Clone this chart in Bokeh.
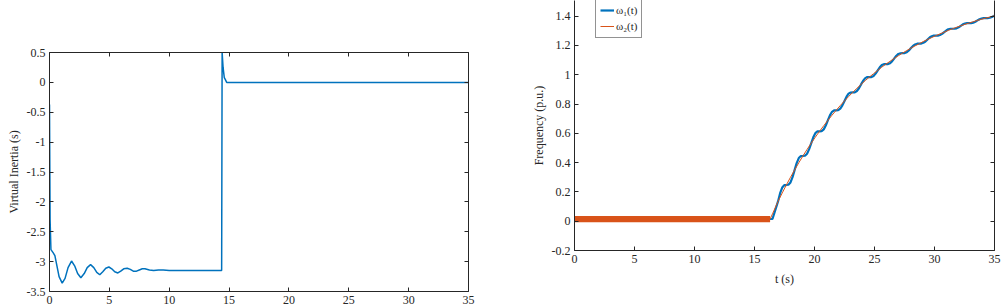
from bokeh.plotting import figure
from bokeh.models import (Range1d, LinearAxis, FixedTicker, NumeralTickFormatter,
                          Legend, LegendItem)
from bokeh.embed import file_html
from bokeh.resources import INLINE

# ---------------- data ----------------
x_ticks = [0, 5, 10, 15, 20, 25, 30, 35]
inertia_ticks = [-3.5, -3, -2.5, -2, -1.5, -1, -0.5, 0, 0.5]
freq_ticks = [-0.2, 0, 0.2, 0.4, 0.6, 0.8, 1, 1.2, 1.4]

inertia_t = [0, 0.05, 0.12, 0.3, 0.45, 0.6, 0.8, 1.06, 1.3, 1.55,
             1.84, 2.1, 2.35, 2.62, 2.9, 3.15, 3.43, 3.7, 3.95, 4.2,
             4.45, 4.7, 4.96, 5.2, 5.45, 5.71, 5.95, 6.2, 6.49, 6.75,
             7.0, 7.27, 7.5, 7.75, 7.97, 8.35, 8.7, 9.1, 9.5, 10.0,
             12.0, 14.38, 14.42, 14.5, 14.6, 14.68, 14.8, 35.0]
inertia = [-0.37, -2.3, -2.8, -2.85, -2.9, -3.05, -3.25, -3.36, -3.28, -3.1,
           -2.99, -3.07, -3.2, -3.27, -3.2, -3.1, -3.05, -3.1, -3.18, -3.22,
           -3.17, -3.11, -3.09, -3.12, -3.17, -3.19, -3.16, -3.12, -3.11, -3.13,
           -3.16, -3.16, -3.14, -3.12, -3.12, -3.14, -3.15, -3.14, -3.14, -3.15,
           -3.15, -3.15, 0.5, 0.25, 0.08, 0.05, 0.0, 0.0]

# omega_1(t): (t, value)
omega1_pts = [
    (0, 0.015), (16.5, 0.015), (16.96, 0.135), (17.135, 0.191), (17.31, 0.230),
    (17.48, 0.246), (17.65, 0.247), (17.825, 0.249), (18.0, 0.265), (18.17, 0.301),
    (18.34, 0.349), (18.515, 0.397), (18.69, 0.431), (18.865, 0.445), (19.04, 0.446),
    (19.21, 0.447), (19.38, 0.461), (19.555, 0.492), (19.73, 0.533), (19.9, 0.573),
    (20.07, 0.601), (20.245, 0.613), (20.42, 0.614), (20.595, 0.615), (20.77, 0.627),
    (20.94, 0.653), (21.11, 0.688), (21.285, 0.723), (21.46, 0.747), (21.63, 0.757),
    (21.8, 0.757), (21.975, 0.758), (22.15, 0.769), (22.325, 0.791), (22.5, 0.821),
    (22.67, 0.850), (22.84, 0.871), (23.015, 0.879), (23.19, 0.880), (23.36, 0.880),
    (23.53, 0.889), (23.705, 0.908), (23.88, 0.934), (24.055, 0.959), (24.23, 0.977),
    (24.4, 0.984), (24.57, 0.984), (24.745, 0.984), (24.92, 0.992), (25.095, 1.008),
    (25.27, 1.030), (25.44, 1.051), (25.61, 1.066), (25.785, 1.072), (25.96, 1.073),
    (26.13, 1.073), (26.3, 1.079), (26.475, 1.093), (26.65, 1.112), (26.82, 1.130),
    (26.99, 1.142), (27.165, 1.147), (27.34, 1.148), (27.515, 1.148), (27.69, 1.154),
    (27.865, 1.166), (28.04, 1.182), (28.21, 1.197), (28.38, 1.207), (28.555, 1.212),
    (28.73, 1.212), (28.9, 1.213), (29.07, 1.218), (29.245, 1.227), (29.42, 1.241),
    (29.595, 1.254), (29.77, 1.263), (29.94, 1.267), (30.11, 1.267), (30.285, 1.267),
    (30.46, 1.271), (30.635, 1.279), (30.81, 1.291), (30.98, 1.302), (31.15, 1.311),
    (31.325, 1.314), (31.5, 1.314), (31.67, 1.314), (31.84, 1.317), (32.015, 1.324),
    (32.19, 1.334), (32.365, 1.344), (32.54, 1.350), (32.71, 1.353), (32.88, 1.353),
    (33.055, 1.353), (33.23, 1.356), (33.405, 1.362), (33.58, 1.371), (33.75, 1.379),
    (33.92, 1.384), (34.095, 1.387), (34.27, 1.387), (34.44, 1.387), (34.61, 1.389),
    (34.785, 1.395), (34.96, 1.402), (35.0, 1.403),
]
omega1_t = [p[0] for p in omega1_pts]
omega1 = [p[1] for p in omega1_pts]

# omega_2(t): smooth reference trace
omega2_t = [0, 16.3, 16.5, 16.96, 17.31, 17.65, 18.0, 18.34, 18.69, 19.04, 19.38,
            19.73, 20.07, 20.42, 20.77, 21.11, 21.46, 21.8, 22.15, 22.5, 22.84,
            23.19, 23.53, 23.88, 24.23, 24.57, 24.92, 25.27, 25.61, 25.96, 26.3,
            26.65, 26.99, 27.34, 27.69, 28.04, 28.38, 28.73, 29.07, 29.42, 29.77,
            30.11, 30.46, 30.81, 31.15, 31.5, 31.84, 32.19, 32.54, 32.88, 33.23,
            33.58, 33.92, 34.27, 34.61, 34.96, 35.0]
omega2 = [0.015, 0.015, 0.05, 0.135, 0.193, 0.247, 0.300, 0.349, 0.399, 0.446, 0.490,
          0.533, 0.574, 0.614, 0.652, 0.688, 0.724, 0.757, 0.790, 0.821, 0.851,
          0.880, 0.907, 0.934, 0.960, 0.984, 1.007, 1.030, 1.052, 1.073, 1.092,
          1.112, 1.130, 1.148, 1.165, 1.182, 1.197, 1.212, 1.227, 1.241, 1.254,
          1.267, 1.279, 1.291, 1.303, 1.314, 1.324, 1.334, 1.344, 1.353, 1.362,
          1.371, 1.379, 1.387, 1.394, 1.402, 1.403]
# measured band of the (noisy) omega2 trace before the ramp
noise_t = [0, 16.3]
noise_lo = [-0.007, -0.007]
noise_hi = [0.035, 0.035]

# ---------------- style ----------------
FONT = "Liberation Serif"
AX = "#262626"
BLUE = "#0072BD"
ORANGE = "#D95319"


def style_axis(ax, labels=True, standoff=4):
    ax.axis_line_color = AX
    ax.axis_line_width = 1
    ax.major_tick_line_color = AX
    ax.major_tick_in = 4
    ax.major_tick_out = 0
    ax.minor_tick_line_color = None
    ax.major_label_text_font = FONT
    ax.major_label_text_color = AX if labels else None
    ax.major_label_text_font_size = "12px" if labels else "0px"
    ax.major_label_standoff = standoff if labels else 0
    ax.axis_label_text_font = FONT
    ax.axis_label_text_font_size = "12px"
    ax.axis_label_text_font_style = "normal"
    ax.axis_label_text_color = AX
    ax.axis_label_standoff = 3


# ---------------- left figure ----------------
p1 = figure(width=510, height=307, title=None,
            x_range=Range1d(0, 35), y_range=Range1d(-3.5, 0.5),
            output_backend="svg", toolbar_location=None,
            min_border_left=49, min_border_right=42,
            min_border_top=52, min_border_bottom=16)
p1.grid.visible = False
p1.outline_line_color = None
p1.background_fill_color = "white"
p1.border_fill_color = "white"

p1.xaxis.ticker = FixedTicker(ticks=x_ticks)
p1.xaxis.formatter = NumeralTickFormatter(format="0.[0]")
p1.yaxis.ticker = FixedTicker(ticks=inertia_ticks)
p1.yaxis.formatter = NumeralTickFormatter(format="0.[0]")
p1.yaxis.axis_label = "Virtual Inertia (s)"
style_axis(p1.xaxis[0], standoff=4)
style_axis(p1.yaxis[0])

top1 = LinearAxis(ticker=FixedTicker(ticks=x_ticks))
style_axis(top1, labels=False)
p1.add_layout(top1, "above")
right1 = LinearAxis(ticker=FixedTicker(ticks=inertia_ticks))
style_axis(right1, labels=False)
p1.add_layout(right1, "right")

p1.line(inertia_t, inertia, line_color=BLUE, line_width=1.5)

# ---------------- right figure ----------------
p2 = figure(width=496, height=307, title=None,
            x_range=Range1d(0, 35), y_range=Range1d(-0.2, 1.507),
            output_backend="svg", toolbar_location=None,
            min_border_left=64, min_border_right=12,
            min_border_top=0, min_border_bottom=57)
p2.grid.visible = False
p2.outline_line_color = None
p2.background_fill_color = "white"
p2.border_fill_color = "white"

p2.xaxis.ticker = FixedTicker(ticks=x_ticks)
p2.xaxis.formatter = NumeralTickFormatter(format="0.[0]")
p2.xaxis.axis_label = "t (s)"
p2.yaxis.ticker = FixedTicker(ticks=freq_ticks)
p2.yaxis.formatter = NumeralTickFormatter(format="0.[0]")
p2.yaxis.axis_label = "Frequency (p.u.)"
style_axis(p2.xaxis[0], standoff=4)
style_axis(p2.yaxis[0])
p2.xaxis[0].axis_label_standoff = 6

right2 = LinearAxis(ticker=FixedTicker(ticks=freq_ticks))
style_axis(right2, labels=False)
p2.add_layout(right2, "right")

r1 = p2.line(omega1_t, omega1, line_color=BLUE, line_width=2.2)
p2.varea(x=noise_t, y1=noise_lo, y2=noise_hi, fill_color=ORANGE, fill_alpha=1)
r2 = p2.line(omega2_t, omega2, line_color=ORANGE, line_width=1)

legend = Legend(items=[LegendItem(label="ω₁(t)", renderers=[r1]),
                       LegendItem(label="ω₂(t)", renderers=[r2])],
                location=(21, 212))
legend.border_line_color = AX
legend.border_line_width = 1
legend.background_fill_color = "white"
legend.background_fill_alpha = 1
legend.label_text_font = FONT
legend.label_text_font_size = "11px"
legend.label_text_color = AX
legend.glyph_width = 14
legend.glyph_height = 12
legend.label_height = 14
legend.label_standoff = 2
legend.padding = 4
legend.spacing = 2
legend.margin = 0
p2.add_layout(legend)

# place the two independent panels side by side (frames not aligned)
p1.styles = {"position": "absolute", "left": "0px", "top": "0px"}
p2.styles = {"position": "absolute", "left": "510px", "top": "0px"}

open("out.html", "w").write(file_html([p1, p2], INLINE))
